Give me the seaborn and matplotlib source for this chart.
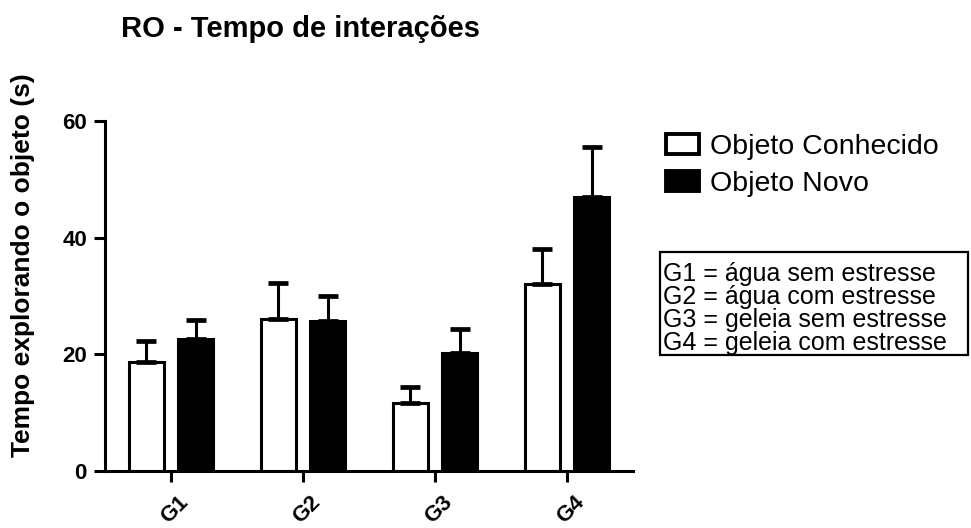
import matplotlib
matplotlib.use("Agg")
import matplotlib.pyplot as plt
import matplotlib.transforms as mtransforms
import seaborn as sns
import pandas as pd
import numpy as np
from matplotlib.patches import Patch, Rectangle

# ---- data ----
groups = ["G1", "G2", "G3", "G4"]
series = ["Objeto Conhecido", "Objeto Novo"]
conhecido_mean = [18.7, 26.0, 11.6, 32.1]
conhecido_err = [3.6, 6.2, 2.8, 5.9]
novo_mean = [22.7, 25.8, 20.3, 47.0]
novo_err = [3.2, 4.2, 4.0, 8.5]
yticks = [0, 20, 40, 60]
title = "RO - Tempo de interações"
ylabel = "Tempo explorando o objeto (s)"
legend_box_lines = [
    "G1 = água sem estresse",
    "G2 = água com estresse",
    "G3 = geleia sem estresse",
    "G4 = geleia com estresse",
]

df = pd.DataFrame({
    "grupo": groups * 2,
    "serie": [series[0]] * 4 + [series[1]] * 4,
    "tempo": conhecido_mean + novo_mean,
})
errs = {series[0]: conhecido_err, series[1]: novo_err}

sns.set_theme(style="white")
plt.rcParams["font.family"] = ["Liberation Sans", "DejaVu Sans"]
plt.rcParams["text.color"] = "black"
plt.rcParams["axes.labelcolor"] = "black"
plt.rcParams["xtick.color"] = "black"
plt.rcParams["ytick.color"] = "black"

fig = plt.figure(figsize=(9.71, 5.28), dpi=100)
ax = fig.add_axes([105 / 971, 1 - 471 / 528, 528 / 971, 350 / 528])

lw = 2.2
sns.barplot(data=df, x="grupo", y="tempo", hue="serie", order=groups,
            hue_order=series, palette={series[0]: "white", series[1]: "black"},
            width=0.75, gap=0.3, edgecolor="black", linewidth=lw,
            errorbar=None, legend=False, ax=ax)

for cont, s in zip(ax.containers, series):
    xs = [b.get_x() + b.get_width() / 2 for b in cont]
    hs = [b.get_height() for b in cont]
    e = errs[s]
    ax.errorbar(xs, hs, yerr=[np.zeros(len(e)), e], fmt="none",
                ecolor="black", elinewidth=lw, capsize=7, capthick=3.4,
                zorder=1)

ax.set_xlim(-0.5, 3.5)
ax.set_ylim(0, 60)
ax.set_yticks(yticks)
ax.set_yticklabels([str(t) for t in yticks], fontsize=16, fontweight="bold")
ax.set_xticks(range(len(groups)))
ax.set_xticklabels(groups, fontsize=16, fontweight="bold", rotation=45,
                   ha="right", rotation_mode="anchor")
ax.tick_params(axis="both", direction="out", length=8, width=lw, color="black",
               bottom=True, left=True, pad=5)
ax.tick_params(axis="x", pad=7)
shift = mtransforms.ScaledTranslation(5 / 72, 0, fig.dpi_scale_trans)
for lab in ax.get_xticklabels():
    lab.set_transform(lab.get_transform() + shift)
for side in ["top", "right"]:
    ax.spines[side].set_visible(False)
for side in ["left", "bottom"]:
    ax.spines[side].set_linewidth(lw)
    ax.spines[side].set_color("black")
ax.set_xlabel("")
ax.set_ylabel(ylabel, fontsize=19, fontweight="bold")
ax.yaxis.set_label_coords(-0.133, 0.589)

fig.text(300 / 971, 1 - 37 / 528, title, fontsize=21, fontweight="bold",
         ha="center", va="baseline")

handles = [Patch(facecolor="white", edgecolor="black", linewidth=2.8),
           Patch(facecolor="black", edgecolor="black", linewidth=2.8)]
ax.legend(handles, series, loc="upper left",
          bbox_to_anchor=(666 / 971, 1 - 134 / 528),
          bbox_transform=fig.transFigure, frameon=False, fontsize=20.5,
          handlelength=1.15, handleheight=0.7, handletextpad=0.4,
          labelspacing=0.4, borderpad=0, borderaxespad=0)

fig.patches.append(Rectangle((660 / 971, 1 - 355 / 528), 308 / 971, 103 / 528,
                             transform=fig.transFigure, fill=False,
                             edgecolor="black", linewidth=1.6))
fig.text(663 / 971, 1 - 308.5 / 528, "\n".join(legend_box_lines), fontsize=18,
         ha="left", va="center", linespacing=0.95)

fig.savefig("out.png", dpi=100, facecolor="white")
